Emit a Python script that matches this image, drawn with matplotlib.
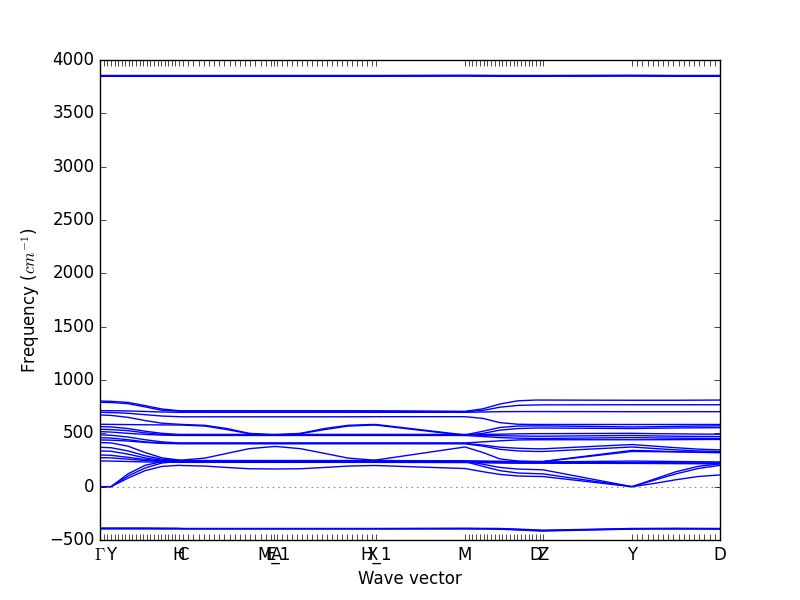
import numpy as np
import matplotlib
matplotlib.use('Agg')
import matplotlib.pyplot as plt

plt.style.use('classic')

# high symmetry points and their position along the path
labels = ['$\\Gamma$', 'Y', 'H', 'C', 'E', 'M_1', 'A', 'X', 'H_1', 'M', 'D', 'Z', 'Y', 'D']
kdist = [0.0, 0.11, 0.79, 0.83, 1.71, 1.74, 1.77, 2.72, 2.76, 3.65, 4.36, 4.43, 5.32, 6.20]
# number of q-points computed in each piece of the path (None = jump, no points)
npts = [4, 20, 2, 18, 2, 2, 20, 2, None, 20, 3, None, 18]

qx = [0.0, 0.11, 0.28, 0.45, 0.62, 0.79,
      0.83, 1.05, 1.27, 1.49, 1.71,
      1.74, 1.77, 2.005, 2.245, 2.48, 2.72,
      2.76, 3.65, 3.83, 4.00, 4.18, 4.36,
      4.43, 5.32, 5.54, 5.76, 5.98, 6.20]

# frequencies (cm^-1) of each band at the qx positions
bands = [
    [3855, 3855, 3855, 3855, 3855, 3855, 3855, 3855, 3855, 3855, 3855, 3855, 3855, 3855, 3855, 3855, 3855, 3855, 3857, 3856, 3855, 3855, 3855, 3855, 3857, 3856, 3855, 3855, 3855],
    [3851, 3851, 3851, 3851, 3851, 3851, 3851, 3851, 3851, 3851, 3851, 3851, 3851, 3851, 3851, 3851, 3851, 3851, 3853, 3852, 3851, 3851, 3851, 3851, 3853, 3852, 3851, 3851, 3851],
    [3847, 3847, 3847, 3847, 3847, 3847, 3847, 3847, 3847, 3847, 3847, 3847, 3847, 3847, 3847, 3847, 3847, 3847, 3849, 3848, 3847, 3847, 3847, 3847, 3849, 3848, 3847, 3847, 3847],
    [803, 800, 790, 760, 728, 712, 712, 712, 712, 712, 712, 712, 712, 712, 712, 712, 711, 711, 706, 730, 775, 805, 812, 812, 810, 810, 810, 811, 812],
    [791, 789, 778, 748, 716, 708, 708, 708, 708, 708, 708, 708, 708, 708, 708, 708, 707, 707, 703, 715, 745, 762, 766, 767, 768, 768, 768, 768, 768],
    [713, 712, 710, 705, 700, 697, 697, 697, 697, 697, 697, 697, 697, 697, 697, 697, 697, 697, 697, 700, 703, 704, 704, 704, 703, 703, 703, 703, 703],
    [697, 695, 688, 675, 662, 656, 655, 655, 655, 655, 655, 655, 655, 655, 655, 655, 656, 656, 656, 640, 600, 585, 583, 583, 583, 583, 583, 583, 583],
    [672, 668, 650, 620, 595, 585, 583, 575, 545, 500, 488, 488, 488, 500, 545, 575, 583, 583, 485, 520, 555, 568, 570, 570, 560, 562, 565, 568, 570],
    [585, 584, 582, 580, 579, 578, 577, 568, 535, 497, 484, 484, 484, 497, 535, 568, 577, 577, 480, 500, 530, 545, 550, 550, 545, 548, 550, 552, 553],
    [563, 560, 545, 520, 500, 490, 490, 490, 490, 490, 490, 490, 490, 490, 490, 490, 490, 490, 490, 490, 492, 495, 497, 497, 500, 497, 495, 493, 492],
    [538, 535, 525, 505, 490, 485, 485, 485, 485, 485, 485, 485, 485, 485, 485, 485, 485, 485, 485, 482, 478, 475, 473, 473, 480, 476, 473, 471, 470],
    [516, 512, 500, 490, 483, 480, 480, 480, 480, 480, 480, 480, 480, 480, 480, 480, 480, 480, 480, 470, 460, 455, 452, 452, 460, 457, 455, 453, 452],
    [485, 482, 465, 440, 420, 410, 410, 410, 410, 410, 410, 410, 410, 410, 410, 410, 410, 410, 410, 420, 430, 438, 440, 440, 440, 440, 441, 442, 443],
    [459, 456, 440, 420, 410, 406, 406, 406, 406, 406, 406, 406, 406, 406, 406, 406, 406, 406, 406, 390, 370, 360, 355, 355, 395, 380, 365, 352, 345],
    [438, 436, 428, 415, 406, 402, 402, 402, 402, 402, 402, 402, 402, 402, 402, 402, 402, 402, 402, 380, 350, 335, 330, 330, 372, 358, 345, 335, 330],
    [413, 410, 380, 320, 270, 250, 250, 268, 312, 356, 374, 376, 376, 356, 312, 268, 250, 250, 372, 320, 260, 240, 236, 236, 340, 335, 328, 322, 318],
    [369, 365, 335, 290, 258, 245, 245, 245, 245, 245, 245, 245, 245, 245, 245, 245, 245, 245, 242, 240, 238, 236, 235, 235, 330, 328, 326, 324, 322],
    [335, 332, 305, 270, 248, 240, 240, 240, 240, 240, 240, 240, 240, 240, 240, 240, 240, 240, 238, 236, 234, 232, 232, 232, 240, 238, 236, 234, 232],
    [297, 294, 275, 255, 241, 236, 236, 236, 236, 236, 236, 236, 236, 236, 236, 236, 236, 236, 234, 232, 230, 229, 228, 228, 226, 225, 224, 223, 222],
    [272, 270, 258, 245, 236, 232, 232, 232, 232, 232, 232, 232, 232, 232, 232, 232, 232, 232, 230, 228, 226, 225, 224, 224, 222, 221, 220, 219, 218],
    [241, 240, 236, 232, 230, 228, 228, 228, 228, 228, 228, 228, 228, 228, 228, 228, 228, 228, 226, 224, 222, 220, 220, 220, 218, 217, 216, 215, 214],
    [0, 0, 120, 200, 235, 243, 243, 243, 243, 243, 243, 243, 243, 243, 243, 243, 243, 243, 240, 210, 180, 165, 160, 158, 0, 70, 140, 190, 215],
    [0, 0, 100, 175, 222, 238, 238, 238, 238, 238, 238, 238, 238, 238, 238, 238, 238, 238, 235, 190, 150, 128, 122, 120, 0, 60, 120, 170, 200],
    [0, 0, 80, 150, 190, 200, 198, 193, 180, 168, 166, 166, 166, 168, 180, 193, 198, 198, 170, 140, 115, 100, 96, 95, 0, 30, 65, 95, 110],
    [-388, -388, -388, -388, -389, -390, -392, -392, -392, -392, -392, -392, -392, -392, -392, -392, -392, -392, -390, -391, -392, -398, -405, -408, -392, -391, -390, -391, -392],
    [-392, -392, -392, -392, -393, -393, -394, -394, -394, -394, -394, -394, -394, -394, -394, -394, -394, -394, -393, -394, -396, -402, -410, -412, -395, -394, -394, -394, -395],
    [-396, -396, -396, -396, -396, -396, -396, -396, -396, -396, -396, -396, -396, -396, -396, -396, -396, -396, -396, -397, -399, -406, -414, -416, -398, -397, -397, -397, -398],
]

# a tick at every computed q-point
qticks = []
for i, n in enumerate(npts):
    if n is None:
        continue
    qticks.extend(np.linspace(kdist[i], kdist[i + 1], n))

fig = plt.figure(figsize=(8, 6), dpi=100)
ax = fig.add_subplot(111)

for b in bands:
    ax.plot(qx, b, 'b-', linewidth=1)

ax.axhline(0, linestyle=':', color=(0.45, 0.45, 0.75), linewidth=0.8)

ax.set_xticks(kdist)
ax.set_xticklabels(labels)
ax.set_xticks(qticks, minor=True)
ax.tick_params(axis='x', which='minor', length=4)
ax.set_xlim(kdist[0], kdist[-1])
ax.set_ylim(-500, 4000)
ax.set_xlabel('Wave vector')
ax.set_ylabel('Frequency ($cm^{-1}$)')

plt.savefig('out.png', dpi=100)
